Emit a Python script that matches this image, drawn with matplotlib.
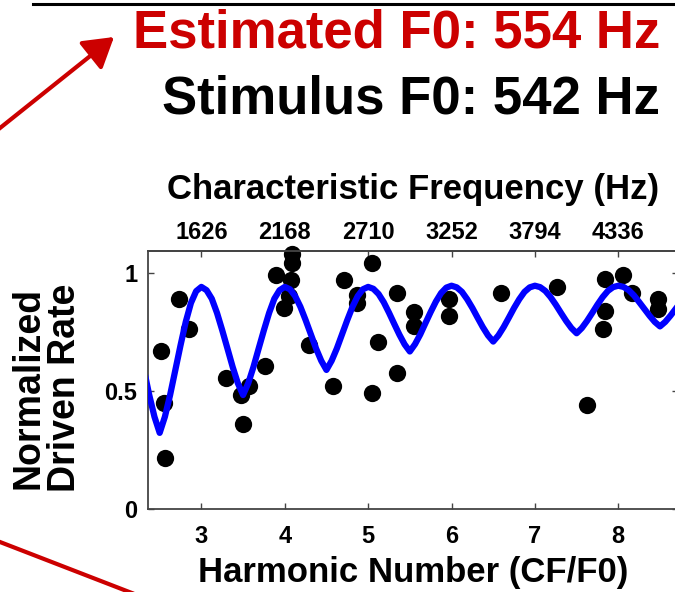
import numpy as np
import matplotlib
matplotlib.use("Agg")
import matplotlib.pyplot as plt
from matplotlib.lines import Line2D

plt.rcParams['font.family'] = ['Liberation Sans', 'DejaVu Sans']
plt.rcParams['font.weight'] = 'bold'
plt.rcParams['axes.labelweight'] = 'bold'

stim_f0 = 542
est_f0 = 554

# Measured driven rates, normalized, vs. harmonic number (CF/F0)
harm_num = [2.51, 2.55, 2.56, 2.73, 2.85, 3.29, 3.47, 3.57, 3.50, 3.76,
            3.89, 3.99, 4.05, 4.08, 4.09, 4.09, 4.29, 4.58, 4.71, 4.87,
            4.87, 5.05, 5.12, 5.05, 5.35, 5.35, 5.55, 5.55, 5.97, 5.97,
            6.59, 7.26, 7.62, 7.84, 7.84, 7.82, 8.06, 8.16, 8.48, 8.48]
driven_rate = [0.67, 0.45, 0.215, 0.89, 0.76, 0.555, 0.485, 0.52, 0.36, 0.605,
               0.99, 0.85, 0.90, 0.97, 1.04, 1.08, 0.695, 0.52, 0.97, 0.905,
               0.87, 1.04, 0.705, 0.49, 0.915, 0.575, 0.835, 0.775, 0.89, 0.815,
               0.915, 0.94, 0.44, 0.975, 0.84, 0.76, 0.99, 0.915, 0.89, 0.845]

# Template fit sampled every 1/16 harmonic from 2.3125 to 8.75
fit_harm = np.arange(2.3125, 8.76, 0.0625)
fit_rate = [0.588, 0.483, 0.391, 0.323, 0.391, 0.483, 0.588, 0.693, 0.792, 0.872, 0.922,
            0.940, 0.926, 0.890, 0.830, 0.757, 0.680, 0.602, 0.533,
            0.483, 0.533, 0.602, 0.680, 0.757, 0.830, 0.890, 0.926,
            0.940, 0.930, 0.901, 0.856, 0.800, 0.740, 0.680, 0.628,
            0.589, 0.628, 0.680, 0.740, 0.800, 0.856, 0.901, 0.930,
            0.940, 0.932, 0.910, 0.875, 0.831, 0.784, 0.738, 0.697,
            0.667, 0.698, 0.739, 0.787, 0.834, 0.878, 0.914, 0.937,
            0.945, 0.938, 0.919, 0.888, 0.851, 0.810, 0.770, 0.735,
            0.709, 0.735, 0.770, 0.810, 0.851, 0.888, 0.919, 0.938,
            0.945, 0.939, 0.923, 0.897, 0.865, 0.830, 0.796, 0.766,
            0.744, 0.766, 0.796, 0.830, 0.865, 0.897, 0.923, 0.939,
            0.945, 0.940, 0.926, 0.904, 0.876, 0.847, 0.818, 0.792,
            0.773, 0.792, 0.818, 0.847, 0.876]

harm_ticks = [3, 4, 5, 6, 7, 8]
cf_ticks = [1626, 2168, 2710, 3252, 3794, 4336]
rate_ticks = [0, 0.5, 1]

red = '#cc0000'
spine_col = '#444444'

fig = plt.figure(figsize=(6.75, 5.92), dpi=100)
ax = fig.add_axes([148 / 675, 82.7 / 592, 529.5 / 675, 258.6 / 592])

ax.scatter(harm_num, driven_rate, s=155, color='black', linewidths=0, zorder=2, clip_on=False)
ax.plot(fit_harm, fit_rate, color='#0000ff', lw=4.5, solid_joinstyle='round', zorder=3)

ax.set_xlim(2.36, 8.71)
ax.set_ylim(0, 1.093)
ax.set_xticks(harm_ticks)
ax.set_yticks(rate_ticks)
ax.set_yticklabels(['0', '0.5', '1'])
for s in ax.spines.values():
    s.set_color(spine_col)
    s.set_linewidth(1.3)
ax.tick_params(axis='both', direction='in', length=4.5, width=1, color=spine_col, labelsize=17)
ax.tick_params(axis='x', pad=11)
ax.tick_params(axis='y', pad=7.7, right=True)
ax.set_xlabel('Harmonic Number (CF/F0)', fontsize=25, fontweight='bold', labelpad=6)

sec = ax.secondary_xaxis('top', functions=(lambda h: h * stim_f0, lambda f: f / stim_f0))
sec.set_xticks(cf_ticks)
sec.set_xticklabels([str(v) for v in cf_ticks])
sec.spines['top'].set_color(spine_col)
sec.spines['top'].set_linewidth(1.3)
sec.tick_params(direction='in', length=4.5, width=1, color=spine_col, labelsize=17, pad=4.5)
sec.set_xlabel('Characteristic Frequency (Hz)', fontsize=25, fontweight='bold', labelpad=16)

fig.text(47 / 675, 1 - 388 / 592, 'Normalized\nDriven Rate', rotation=90, fontsize=27,
         fontweight='bold', ha='center', va='center', multialignment='center', linespacing=1.0)

fig.text(660 / 675, 1 - 48 / 592, 'Estimated F0: %d Hz' % est_f0, color=red, fontsize=38,
         ha='right', va='baseline')
fig.text(660 / 675, 1 - 113 / 592, 'Stimulus F0: %d Hz' % stim_f0, color='black', fontsize=38,
         ha='right', va='baseline')

# rule across the top and the red pointers at the left edge
fig.add_artist(Line2D([33 / 675, 1.0], [1 - 3.5 / 592] * 2, transform=fig.transFigure,
                      color='black', lw=2.2))
ax.annotate('', xy=(114, 592 - 37), xytext=(-10, 592 - 136),
            xycoords='figure pixels', textcoords='figure pixels',
            arrowprops=dict(arrowstyle='-|>,head_length=18,head_width=11', mutation_scale=1,
                            color=red, lw=3, shrinkA=0, shrinkB=0),
            annotation_clip=False)
fig.add_artist(Line2D([0.0, 150 / 675], [1 - 542 / 592, 1 - 600 / 592], transform=fig.transFigure,
                      color=red, lw=3))

fig.savefig('out.png', dpi=100)
